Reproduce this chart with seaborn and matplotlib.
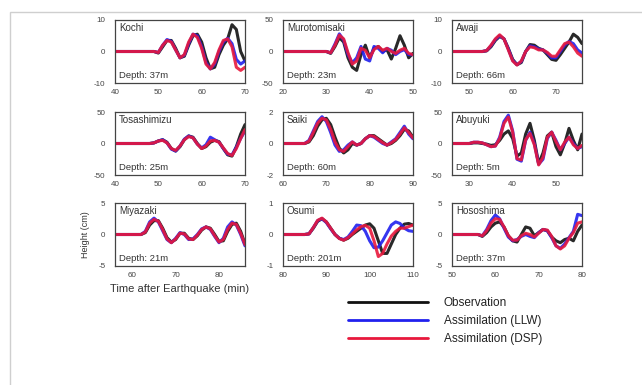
import numpy as np
import pandas as pd
import matplotlib
matplotlib.use("Agg")
import matplotlib.pyplot as plt
from matplotlib.patches import Rectangle
from matplotlib.lines import Line2D
import seaborn as sns

sns.set_style("white")
plt.rcParams['font.family'] = ['Liberation Sans', 'DejaVu Sans']

# ---------------- data ----------------
stations = ["Kochi", "Murotomisaki", "Awaji", "Tosashimizu", "Saiki",
            "Abuyuki", "Miyazaki", "Osumi", "Hososhima"]
depths = ["Depth: 37m", "Depth: 23m", "Depth: 66m", "Depth: 25m", "Depth: 60m",
          "Depth: 5m", "Depth: 21m", "Depth: 201m", "Depth: 37m"]
t_start = [40, 20, 46, 40, 60, 26, 56, 80, 50]
t_end = [70, 50, 76, 70, 90, 56, 86, 110, 80]
y_lim = [10, 50, 10, 50, 2, 50, 5, 1, 5]
x_ticks = [[40, 50, 60, 70], [20, 30, 40, 50], [50, 60, 70], [40, 50, 60, 70],
           [60, 70, 80, 90], [30, 40, 50], [60, 70, 80], [80, 90, 100, 110],
           [50, 60, 70, 80]]

kochi_obs = [0, 0, 0, 0, 0, 0, 0, 0, 0, 0, -0.5, 1.5, 3.5, 3.5, 1, -2, -1.5, 2, 5, 5.5, 3,
             -2, -5.5, -5, -1, 2, 4, 8.5, 7, 0, -3]
kochi_llw = [0, 0, 0, 0, 0, 0, 0, 0, 0, 0, -0.3, 2, 3.8, 3.2, 0.5, -2, -1.2, 2.5, 5.5, 5, 1.5,
             -3.5, -5.5, -4, 0, 3, 4.2, 2.5, -2.5, -4, -3]
kochi_dsp = [0, 0, 0, 0, 0, 0, 0, 0, 0, 0, -0.3, 2, 3.5, 3, 0.5, -2, -1, 3, 5.5, 4.5, 1,
             -4, -5.5, -3.5, 0.5, 3.5, 4, 1.5, -5, -6, -5]

muroto_obs = [0, 0, 0, 0, 0, 0, 0, 0, 0, 0, 0, -3, 8, 22, 15, -10, -25, -30, -5, 10, -10,
              5, 8, 0, 3, -12, 5, 25, 10, -10, -3]
muroto_llw = [0, 0, 0, 0, 0, 0, 0, 0, 0, 0, 0, -2, 12, 28, 18, -5, -18, -10, 8, -12, -15,
              8, 5, -2, 5, 2, -5, 0, 3, -5, -5]
muroto_dsp = [0, 0, 0, 0, 0, 0, 0, 0, 0, 0, 0, -2, 10, 26, 20, -2, -20, -15, 5, 2, -10,
              3, 8, 2, 5, 0, -3, 2, 5, -3, -5]

awaji_obs = [0, 0, 0, 0, 0, 0, 0, 0, 0.2, 1.5, 3.5, 4.8, 4, 1, -2.5, -4.2, -3.5, 0, 2.2, 2,
             1, 0.5, -1, -2.5, -2.8, -1, 1, 3, 5.5, 4.5, 2.5]
awaji_llw = [0, 0, 0, 0, 0, 0, 0, 0, 0.3, 1.8, 3.8, 5, 4, 0.8, -2.8, -4.2, -3.2, 0, 1.8, 1.5,
             0.8, 0.5, -0.5, -2, -2, 0, 2, 3.2, 2.5, 0.5, -0.5]
awaji_dsp = [0, 0, 0, 0, 0, 0, 0, 0, 0.3, 2, 4, 5.3, 4, 0.5, -3, -4.3, -3, 0, 1.5, 1.2,
             0.5, 0.5, -0.3, -1.5, -1.5, 0.5, 2.5, 3, 1.5, -0.5, -1.5]

tosa_obs = [0, 0, 0, 0, 0, 0, 0, 0, 0, 1, 4, 6, 2, -8, -12, -5, 6, 12, 10, 0, -8,
            -5, 2, 5, 3, -8, -18, -20, -5, 15, 30]
tosa_llw = [0, 0, 0, 0, 0, 0, 0, 0, 0, 1, 4, 6, 1, -9, -12, -4, 7, 12, 9, -1, -7,
            -2, 10, 6, 2, -8, -17, -18, -6, 8, 20]
tosa_dsp = [0, 0, 0, 0, 0, 0, 0, 0, 0, 1, 4, 5, 1, -8, -11, -4, 6, 11, 9, -1, -8,
            -4, 4, 5, 2, -7, -16, -19, -8, 8, 22]

saiki_obs = [0, 0, 0, 0, 0, 0, 0.1, 0.5, 1.1, 1.5, 1.6, 1.2, 0.4, -0.3, -0.6, -0.4, 0,
             -0.1, 0, 0.3, 0.5, 0.5, 0.3, 0.1, -0.1, 0, 0.2, 0.5, 0.9, 0.8, 0.4]
saiki_llw = [0, 0, 0, 0, 0, 0, 0.2, 0.8, 1.4, 1.7, 1.4, 0.7, -0.1, -0.5, -0.4, -0.1, 0.1,
             -0.1, 0, 0.3, 0.5, 0.4, 0.2, 0, -0.1, 0.1, 0.3, 0.7, 1.1, 0.6, 0.3]
saiki_dsp = [0, 0, 0, 0, 0, 0, 0.15, 0.7, 1.3, 1.6, 1.5, 0.9, 0.1, -0.4, -0.5, -0.2, 0.1,
             -0.1, 0, 0.3, 0.5, 0.45, 0.25, 0.05, -0.1, 0.05, 0.25, 0.6, 1.0, 0.7, 0.35]

abuyuki_obs = [0, 0, 0, 0, 0, 1, 1, 0, -1, -3, -2, 5, 15, 20, 8, -20, -15, 15, 32, 5,
               -32, -15, 12, 18, -5, -18, 0, 24, 5, -10, 15]
abuyuki_llw = [0, 0, 0, 0, 0, 2, 2, 1, -2, -5, -4, 10, 35, 45, 20, -25, -28, 5, 18, 0,
               -33, -25, 8, 18, 5, -10, 0, 10, 0, -8, -5]
abuyuki_dsp = [0, 0, 0, 0, 0, 2, 2, 1, -2, -5, -4, 8, 32, 42, 18, -24, -26, 6, 16, -2,
               -34, -22, 10, 18, 3, -10, 2, 10, -2, -8, -3]

miyazaki_obs = [0, 0, 0, 0, 0, 0, 0, 0.3, 1.5, 2.2, 2.2, 1, -0.5, -1.2, -0.8, 0.2, 0.2,
                -0.6, -0.8, -0.2, 0.7, 1.2, 1, 0, -1.1, -1, 0.5, 1.6, 1.8, 0.5, -1.5]
miyazaki_llw = [0, 0, 0, 0, 0, 0, 0, 0.5, 2, 2.6, 2, 0.6, -0.8, -1.3, -0.6, 0.3, 0,
                -0.8, -0.7, 0, 0.9, 1.2, 0.8, -0.3, -1.3, -0.6, 1.2, 2, 1.5, 0, -1.8]
miyazaki_dsp = [0, 0, 0, 0, 0, 0, 0, 0.4, 1.8, 2.4, 2.1, 0.8, -0.7, -1.3, -0.7, 0.2, 0.1,
                -0.7, -0.8, -0.1, 0.8, 1.2, 0.9, -0.2, -1.2, -0.8, 0.8, 1.8, 1.6, 0.2, -1.6]

osumi_obs = [0, 0, 0, 0, 0, 0, 0.02, 0.2, 0.42, 0.5, 0.4, 0.2, 0, -0.12, -0.18, -0.12, 0,
             0.1, 0.2, 0.3, 0.34, 0.2, -0.2, -0.6, -0.6, -0.3, 0, 0.2, 0.33, 0.35, 0.3]
osumi_llw = [0, 0, 0, 0, 0, 0, 0.02, 0.22, 0.44, 0.5, 0.38, 0.18, 0, -0.12, -0.16, -0.08, 0.1,
             0.3, 0.28, 0.1, -0.2, -0.42, -0.4, -0.2, 0.05, 0.3, 0.4, 0.35, 0.2, 0.12, 0.1]
osumi_dsp = [0, 0, 0, 0, 0, 0, 0.02, 0.22, 0.45, 0.52, 0.4, 0.2, 0, -0.13, -0.18, -0.1, 0.02,
             0.15, 0.25, 0.29, 0.2, -0.2, -0.7, -0.6, -0.3, -0.05, 0.1, 0.2, 0.2, 0.25, 0.3]

hoso_obs = [0, 0, 0, 0, 0, 0, 0, -0.3, 0.3, 1.2, 1.8, 2, 1.2, -0.2, -1, -1.2, 0, 1.2, 1,
            -0.2, 0.3, 0.8, 0.6, -0.4, -1, -1.3, -0.8, -0.6, -1, 0.5, 1.5]
hoso_llw = [0, 0, 0, 0, 0, 0, 0, -0.2, 0.8, 2.2, 3.1, 2.5, 1, -0.4, -1, -0.8, -0.3, 0, -0.3,
            -0.5, 0.3, 0.8, 0.6, -0.5, -1.8, -2.2, -1.5, -0.5, 0.5, 3.2, 3]
hoso_dsp = [0, 0, 0, 0, 0, 0, 0, -0.2, 0.6, 1.8, 2.5, 2.4, 1.2, -0.2, -0.9, -0.9, -0.2, 0.2, 0,
            -0.4, 0.2, 0.8, 0.7, -0.3, -1.8, -2.3, -1.8, -0.6, 0.3, 1.8, 2]

series_obs = [kochi_obs, muroto_obs, awaji_obs, tosa_obs, saiki_obs, abuyuki_obs,
              miyazaki_obs, osumi_obs, hoso_obs]
series_llw = [kochi_llw, muroto_llw, awaji_llw, tosa_llw, saiki_llw, abuyuki_llw,
              miyazaki_llw, osumi_llw, hoso_llw]
series_dsp = [kochi_dsp, muroto_dsp, awaji_dsp, tosa_dsp, saiki_dsp, abuyuki_dsp,
              miyazaki_dsp, osumi_dsp, hoso_dsp]

labels = ["Observation", "Assimilation (LLW)", "Assimilation (DSP)"]
palette = {"Observation": "#111111", "Assimilation (LLW)": "#2020ee",
           "Assimilation (DSP)": "#e8183c"}

# ---------------- layout ----------------
W, H = 642, 385
fig = plt.figure(figsize=(W / 100, H / 100), dpi=100)
fig.patch.set_facecolor("white")

cols_left = [115, 283, 452]
rows_top = [20, 112, 203]
aw, ah = 130, 63

fig.patches.append(Rectangle((10 / W, -0.2), 1.5, 1.2 - 12 / H, transform=fig.transFigure,
                             fill=False, edgecolor="#cfcfcf", linewidth=1.0))

axes = []
for i in range(9):
    r, c = divmod(i, 3)
    l = cols_left[c]
    t = rows_top[r]
    ax = fig.add_axes([l / W, 1 - (t + ah) / H, aw / W, ah / H])
    axes.append(ax)
    times = list(range(t_start[i], t_end[i] + 1))
    df = pd.DataFrame({
        "t": times * 3,
        "h": series_obs[i] + series_llw[i] + series_dsp[i],
        "series": [labels[0]] * len(times) + [labels[1]] * len(times) + [labels[2]] * len(times),
    })
    sns.lineplot(data=df, x="t", y="h", hue="series", hue_order=labels, palette=palette,
                 ax=ax, legend=False, linewidth=2.2, alpha=0.9)
    ax.set_xlim(t_start[i], t_end[i])
    ax.set_ylim(-y_lim[i], y_lim[i])
    ax.set_xticks(x_ticks[i])
    ax.set_yticks([-y_lim[i], 0, y_lim[i]])
    ax.set_yticklabels([str(-y_lim[i]), "0", str(y_lim[i])])
    ax.tick_params(axis="both", labelsize=5.8, colors="#444444", direction="in",
                   length=2, width=0.6)
    ax.tick_params(axis="y", pad=7)
    ax.tick_params(axis="x", pad=4)
    ax.set_xlabel("")
    ax.set_ylabel("")
    for s in ax.spines.values():
        s.set_visible(True)
        s.set_color("#444444")
        s.set_linewidth(0.9)
    ax.text(0.03, 0.96, stations[i], transform=ax.transAxes, ha="left", va="top",
            fontsize=7, color="#333333")
    ax.text(0.03, 0.04, depths[i], transform=ax.transAxes, ha="left", va="bottom",
            fontsize=6.8, color="#333333")

axes[6].set_xlabel("Time after Earthquake (min)", fontsize=8, color="#333333", labelpad=4)
axes[6].set_ylabel("Height (cm)", fontsize=6.5, color="#333333", labelpad=6)

handles = [Line2D([0], [0], color=palette[lab], linewidth=2.0) for lab in labels]
fig.legend(handles, labels, loc="upper left", bbox_to_anchor=(348 / W, 1 - 297 / H),
           frameon=False, fontsize=8.5, handlelength=6.8, handletextpad=1.3,
           labelspacing=0.5, borderpad=0, borderaxespad=0, labelcolor="#222222")

fig.savefig("out.png", dpi=100)
